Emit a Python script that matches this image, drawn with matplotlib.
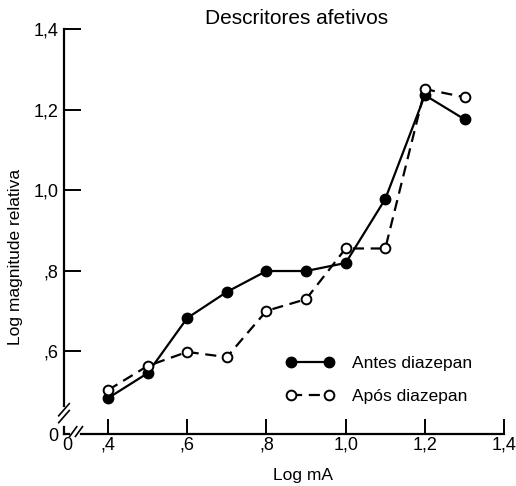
import numpy as np
import matplotlib.pyplot as plt

plt.rcParams['font.family'] = ['Liberation Sans', 'DejaVu Sans']

# Log mA
log_ma = [0.4, 0.5, 0.6, 0.7, 0.8, 0.9, 1.0, 1.1, 1.2, 1.3]
antes = [0.483, 0.545, 0.682, 0.747, 0.799, 0.799, 0.819, 0.978, 1.236, 1.176]
apos = [0.503, 0.563, 0.598, 0.585, 0.700, 0.729, 0.855, 0.855, 1.251, 1.231]

x_ticks = [0.4, 0.6, 0.8, 1.0, 1.2, 1.4]
x_labels = [",4", ",6", ",8", "1,0", "1,2", "1,4"]
y_ticks = [0.6, 0.8, 1.0, 1.2, 1.4]
y_labels = [",6", ",8", "1,0", "1,2", "1,4"]

fig = plt.figure(figsize=(5.16, 4.86), dpi=100)
ax = fig.add_axes([0.124, 0.107, 0.853, 0.833])
ax.set_xlim(0.289, 1.4)
ax.set_ylim(0.394, 1.4)

ax.plot(log_ma, antes, color="black", linewidth=1.6, marker="o",
        markersize=7.5, markerfacecolor="black", label="Antes diazepan")
ax.plot(log_ma, apos, color="black", linewidth=1.6, linestyle=(0, (5, 3)),
        marker="o", markersize=7, markerfacecolor="white",
        markeredgewidth=1.4, label="Após diazepan")

for s in ax.spines.values():
    s.set_visible(False)

# axes drawn by hand so the breaks near the origin can be shown
kw = dict(color="black", linewidth=1.6, transform=ax.transAxes, clip_on=False)
ax.plot([0, 0], [0.07, 1], **kw)
ax.plot([0, 0], [0, 0.018], **kw)
ax.plot([0, 0.012], [0, 0], **kw)
ax.plot([0.038, 1], [0, 0], **kw)
thin = dict(color="black", linewidth=1.2, transform=ax.transAxes, clip_on=False)
for dy in (0.028, 0.045):
    ax.plot([-0.012, 0.012], [dy, dy + 0.03], **thin)
for dx in (0.017, 0.03):
    ax.plot([dx - 0.004, dx + 0.012], [-0.006, 0.018], **thin)

ax.set_xticks(x_ticks)
ax.set_xticklabels(x_labels)
ax.set_yticks(y_ticks)
ax.set_yticklabels(y_labels)
ax.tick_params(axis="x", direction="in", length=11, width=1.4, labelsize=13, pad=2)
ax.tick_params(axis="y", direction="in", length=12, width=1.4, labelsize=13, pad=4)

ax.text(-0.012, -0.005, "0", transform=ax.transAxes, ha="right", va="center", fontsize=13)
ax.text(0.008, -0.008, "0", transform=ax.transAxes, ha="center", va="top", fontsize=13)

ax.set_xlabel("Log mA", fontsize=12.5)
ax.set_ylabel("Log magnitude relativa", fontsize=12.5)
ax.xaxis.set_label_coords(0.543, -0.085)
ax.yaxis.set_label_coords(-0.092, 0.437)
fig.text(0.574, 0.962, "Descritores afetivos", ha="center", va="center", fontsize=15)

ax.legend(loc="upper left", bbox_to_anchor=(0.537, 0.285), frameon=False,
          numpoints=2, handlelength=2.8, fontsize=12.5, labelspacing=1.0,
          borderpad=0, handletextpad=1.0, bbox_transform=fig.transFigure)

fig.savefig("out.png", dpi=100)
